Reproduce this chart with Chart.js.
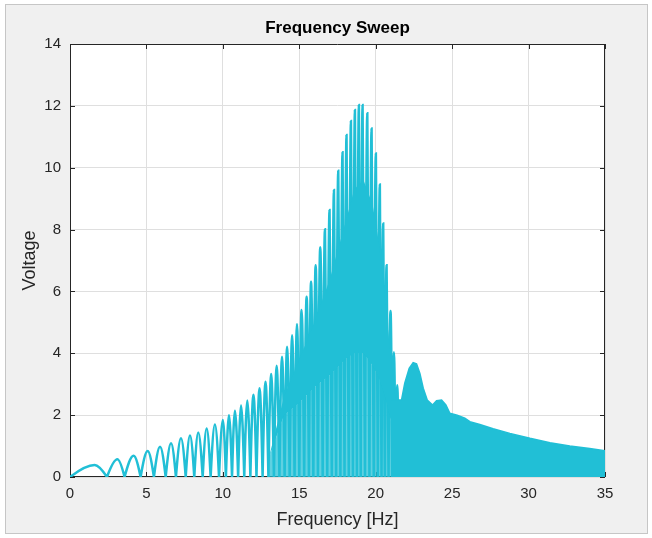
<!DOCTYPE html>
<html>
<head>
<meta charset="utf-8">
<script src="https://cdn.jsdelivr.net/npm/chart.js@4.4.0/dist/chart.umd.min.js"></script>
<style>
  html, body { margin: 0; padding: 0; background: #fff; overflow: hidden; }
  body { width: 652px; height: 538px; position: relative; }
  #frame { position: absolute; left: 5px; top: 4px; width: 641px; height: 528px; background: #f0f0f0; border: 1px solid #c6c6c6; }
  #c { position: absolute; left: 0; top: 0; }
</style>
</head>
<body>
<div id="frame"></div>
<canvas id="c" width="652" height="538"></canvas>
<script>
// zero crossings of the rectified sweep (Hz)
const troughHz = [0, 2.42, 3.57, 4.62, 5.49, 6.26, 6.93, 7.57, 8.13, 8.68,
  9.2, 9.75, 10.2, 10.6, 11.0, 11.4, 11.8, 12.2, 12.6, 12.98,
  13.34, 13.7, 14.04, 14.37, 14.69, 15.0, 15.32, 15.63, 15.92, 16.22,
  16.53, 16.83, 17.13, 17.41, 17.69, 17.96, 18.24, 18.51, 18.77, 19.02,
  19.3, 19.59, 19.87, 20.14, 20.38, 20.6, 20.84, 21.08, 21.3, 21.5];

// lobe tops
const peakHz = [1.61, 3.10, 4.16, 5.08, 5.89, 6.61, 7.26, 7.85, 8.39, 8.94,
  9.48, 10.0, 10.4, 10.79, 11.19, 11.6, 12.0, 12.4, 12.79, 13.16,
  13.52, 13.87, 14.2, 14.53, 14.85, 15.15, 15.48, 15.77, 16.07, 16.37,
  16.68, 16.98, 17.27, 17.55, 17.83, 18.09, 18.38, 18.64, 18.9, 19.14,
  19.45, 19.73, 20.01, 20.27, 20.49, 20.71, 20.97, 21.19, 21.41];
const peakVolts = [0.39, 0.57, 0.69, 0.84, 0.98, 1.09, 1.25, 1.34, 1.44, 1.57,
  1.70, 1.84, 2.00, 2.14, 2.31, 2.47, 2.66, 2.87, 3.08, 3.33,
  3.60, 3.89, 4.21, 4.58, 4.95, 5.40, 5.83, 6.31, 6.85, 7.43,
  8.01, 8.63, 9.28, 9.90, 10.50, 11.06, 11.51, 11.87, 12.03, 12.03,
  11.76, 11.27, 10.46, 9.46, 8.20, 6.85, 5.37, 4.03, 2.97];

// band where the dense lobes overlap into solid colour,
// with faint streaks left below it
const coreHz = [13.0, 14.0, 15.0, 16.0, 17.0, 18.0, 18.6, 19.2, 19.8, 20.2,
  20.6, 21.0, 21.3];
const coreLow = [0.6, 2.0, 2.4, 2.9, 3.3, 3.8, 4.0, 4.0, 3.6, 3.2,
  2.6, 1.8, 1.2];
const coreHigh = [0.6, 2.6, 3.8, 5.0, 6.4, 8.2, 9.3, 9.6, 8.8, 7.6,
  5.8, 3.8, 2.5];

// above ~21 Hz the trace is too dense to resolve: upper envelope only
const envHz = [21.0, 21.54, 21.69, 21.9, 22.19, 22.45, 22.67, 22.89, 23.11, 23.37,
  23.72, 23.98, 24.31, 24.59, 24.85, 25.33, 25.83, 26.16, 26.81, 27.68,
  28.78, 30.09, 31.4, 32.7, 34.0, 35.0];
const envVolts = [2.5, 2.49, 2.49, 3.03, 3.51, 3.70, 3.66, 3.35, 2.87, 2.49,
  2.33, 2.47, 2.49, 2.33, 2.06, 2.00, 1.90, 1.79, 1.70, 1.56,
  1.41, 1.25, 1.11, 1.00, 0.92, 0.85];

const xTicks = [0, 5, 10, 15, 20, 25, 30, 35];
const yTicks = [0, 2, 4, 6, 8, 10, 12, 14];

const lineColor = '#21bfd6';
const streakColor = 'rgba(33, 191, 214, 0.72)';
const axisColor = '#262626';
const fontFamily = '"Liberation Sans", Arial, Helvetica, sans-serif';

const sweep = [];
troughHz.forEach((f, i) => {
  sweep.push({ x: f, y: 0 });
  if (i < peakHz.length) sweep.push({ x: peakHz[i], y: peakVolts[i] });
});
const bandLow = coreHz.map((f, i) => ({ x: f, y: coreLow[i] }));
const bandHigh = coreHz.map((f, i) => ({ x: f, y: coreHigh[i] }));
const tail = envHz.map((f, i) => ({ x: f, y: envVolts[i] }));

// white axes, box and inward ticks like matlab
const axesBox = {
  id: 'axesBox',
  beforeDraw(chart) {
    const { ctx, chartArea: a } = chart;
    ctx.save();
    ctx.fillStyle = '#fff';
    ctx.fillRect(a.left, a.top, a.right - a.left, a.bottom - a.top);
    ctx.restore();
  },
  beforeDatasetsDraw(chart) {
    const { ctx, chartArea: a, scales: { x, y } } = chart;
    const len = 5;
    ctx.save();
    ctx.strokeStyle = axisColor;
    ctx.lineWidth = 1;
    ctx.beginPath();
    ctx.rect(a.left + 0.5, a.top + 0.5, a.right - a.left - 1, a.bottom - a.top - 1);
    xTicks.forEach(t => {
      const px = Math.round(x.getPixelForValue(t)) + 0.5;
      ctx.moveTo(px, a.bottom); ctx.lineTo(px, a.bottom - len);
      ctx.moveTo(px, a.top); ctx.lineTo(px, a.top + len);
    });
    yTicks.forEach(t => {
      const py = Math.round(y.getPixelForValue(t)) + 0.5;
      ctx.moveTo(a.left, py); ctx.lineTo(a.left + len, py);
      ctx.moveTo(a.right, py); ctx.lineTo(a.right - len, py);
    });
    ctx.stroke();
    ctx.restore();
  }
};

// bend the straight trough->peak segments into sine-like arches:
// sharp cusp at each zero, flat top at each peak
const archShape = {
  id: 'archShape',
  beforeDatasetsDraw(chart) {
    const meta = chart.getDatasetMeta(3);
    const pts = meta.data;
    meta.dataset.updateControlPoints(chart.chartArea, 'x');
    pts.forEach((p, i) => {
      const prev = pts[i - 1], next = pts[i + 1];
      if (i % 2 === 1) {
        p.cp1x = p.x - (p.x - prev.x) * 0.333; p.cp1y = p.y;
        p.cp2x = p.x + (next.x - p.x) * 0.333; p.cp2y = p.y;
      } else {
        p.cp1x = prev ? p.x - (p.x - prev.x) * 0.326 : p.x;
        p.cp1y = prev ? p.y + (prev.y - p.y) * 0.512 : p.y;
        p.cp2x = next ? p.x + (next.x - p.x) * 0.326 : p.x;
        p.cp2y = next ? p.y + (next.y - p.y) * 0.512 : p.y;
      }
    });
  }
};

new Chart(document.getElementById('c'), {
  type: 'line',
  data: {
    datasets: [
      {
        data: tail,
        borderColor: lineColor,
        backgroundColor: lineColor,
        borderWidth: 1.5,
        fill: 'origin',
        pointRadius: 0,
        tension: 0,
        clip: 0
      },
      {
        data: bandLow,
        backgroundColor: streakColor,
        borderWidth: 0,
        fill: 'origin',
        pointRadius: 0,
        tension: 0,
        clip: 0
      },
      {
        data: bandHigh,
        borderColor: lineColor,
        backgroundColor: lineColor,
        borderWidth: 0,
        fill: '-1',
        pointRadius: 0,
        tension: 0,
        clip: 0
      },
      {
        data: sweep,
        borderColor: lineColor,
        borderWidth: 2.5,
        fill: false,
        pointRadius: 0,
        tension: 0.1,
        clip: 0
      }
    ]
  },
  options: {
    responsive: false,
    animation: false,
    layout: { padding: { left: 0, right: 47, top: 0, bottom: 0 } },
    plugins: {
      legend: { display: false },
      tooltip: { enabled: false },
      title: {
        display: true,
        fullSize: false,
        text: 'Frequency Sweep',
        color: '#000',
        font: { family: fontFamily, size: 17, weight: 'bold' },
        padding: { top: 18.3, bottom: 5.3 }
      }
    },
    scales: {
      x: {
        type: 'linear',
        min: 0,
        max: 35,
        afterBuildTicks: s => { s.ticks = xTicks.map(v => ({ value: v })); },
        ticks: { color: axisColor, font: { family: fontFamily, size: 15 }, padding: 8, maxRotation: 0 },
        grid: { color: '#dfdfdf', drawTicks: false },
        border: { display: false },
        title: {
          display: true,
          text: 'Frequency [Hz]',
          color: axisColor,
          font: { family: fontFamily, size: 18 },
          padding: { top: 0, bottom: 7.2 }
        },
        afterFit: s => { s.height = 61; }
      },
      y: {
        type: 'linear',
        min: 0,
        max: 14,
        afterBuildTicks: s => { s.ticks = yTicks.map(v => ({ value: v })); },
        ticks: { color: axisColor, font: { family: fontFamily, size: 15 }, padding: 9 },
        grid: { color: '#dfdfdf', drawTicks: false },
        border: { display: false },
        title: {
          display: true,
          text: 'Voltage',
          color: axisColor,
          font: { family: fontFamily, size: 18 },
          padding: { top: 19.2, bottom: 0 }
        },
        afterFit: s => { s.width = 70; }
      }
    }
  },
  plugins: [axesBox, archShape]
});
</script>
</body>
</html>
